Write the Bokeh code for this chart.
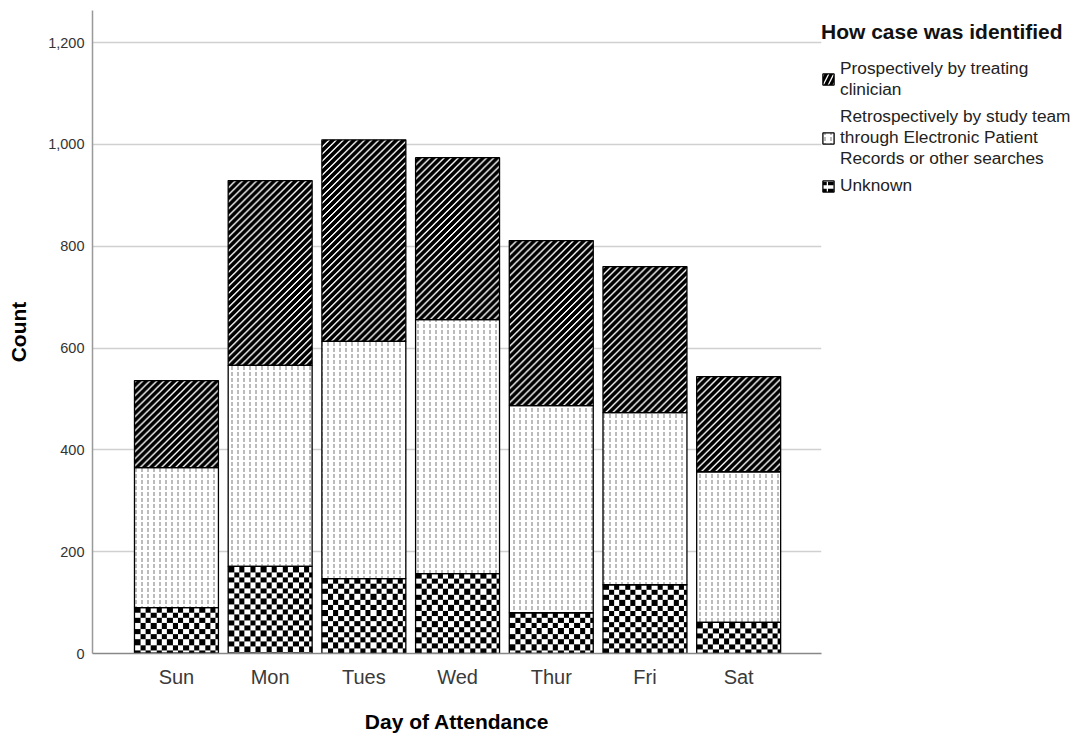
import numpy as np
from bokeh.plotting import figure
from bokeh.models import Range1d, FixedTicker, Legend, LegendItem, NumeralTickFormatter
from bokeh.embed import file_html
from bokeh.resources import INLINE

days = ["Sun", "Mon", "Tues", "Wed", "Thur", "Fri", "Sat"]
unknown = [90, 171, 147, 157, 80, 135, 61]
retrospective = [275, 395, 466, 499, 407, 338, 296]
prospective = [171, 363, 396, 318, 324, 287, 187]
y_ticks = [0, 200, 400, 600, 800, 1000, 1200]

labels = ["Prospectively by treating\nclinician",
          "Retrospectively by study team\nthrough Electronic Patient\nRecords or other searches",
          "Unknown"]

# ---- layout constants
FRAME_W, FRAME_H = 729, 643
X0, X1 = -0.896, 6.884
Y0, Y1 = 0, 1263
W = 0.896
px_x = FRAME_W / (X1 - X0)
px_y = FRAME_H / (Y1 - Y0)

x = np.arange(len(days))
u = np.array(unknown, dtype=float)
r = np.array(retrospective, dtype=float)
pr = np.array(prospective, dtype=float)
b_unk, t_unk = np.zeros_like(u), u
b_ret, t_ret = u, u + r
b_pro, t_pro = u + r, u + r + pr


def rgba_to_u32(arr):
    return np.ascontiguousarray(arr).view(np.uint32).reshape(arr.shape[0], arr.shape[1])


def checker_img(nx, ny, cell=5.33):
    jj, ii = np.mgrid[0:ny, 0:nx]
    ty = ny - 1 - jj
    on = ((np.floor(ii / cell) + np.floor(ty / cell)) % 2) == 0
    v = np.where(on, 0, 255).astype(np.uint8)
    arr = np.stack([v, v, v, np.full_like(v, 255)], axis=-1)
    return rgba_to_u32(arr)


def stripe_img(nx, ny, period=7):
    jj, ii = np.mgrid[0:ny, 0:nx]
    ty = ny - 1 - jj
    d = (ii + ty) % period
    shade = np.zeros(period, dtype=np.uint8)
    shade[0], shade[1] = 255, 235
    v = shade[d]
    arr = np.stack([v, v, v, np.full_like(v, 255)], axis=-1)
    return rgba_to_u32(arr)


def layer_images(bottoms, tops, maker):
    imgs = []
    for b, t in zip(bottoms, tops):
        nx = int(round(W * px_x))
        ny = max(1, int(round((t - b) * px_y)))
        imgs.append(maker(nx, ny))
    return imgs


p = figure(frame_width=FRAME_W, frame_height=FRAME_H,
           min_border_left=92, min_border_top=10, min_border_bottom=78, min_border_right=10,
           x_range=Range1d(X0, X1), y_range=Range1d(Y0, Y1),
           output_backend="svg", toolbar_location=None)
p.outline_line_color = None
p.background_fill_color = "white"

# patterned fills (drawn through the data scales)
p.image_rgba(image=layer_images(b_unk, t_unk, checker_img), x=list(x - W / 2), y=list(b_unk),
             dw=[W] * len(x), dh=list(t_unk - b_unk))
p.image_rgba(image=layer_images(b_pro, t_pro, stripe_img), x=list(x - W / 2), y=list(b_pro),
             dw=[W] * len(x), dh=list(t_pro - b_pro))

r_ret = p.vbar(x=x, bottom=b_ret, top=t_ret, width=W, fill_color="white", line_color="black",
               line_width=1.3, hatch_pattern="vertical_dash", hatch_color="#777777",
               hatch_scale=6, hatch_weight=1)
p.vbar(x=x, bottom=b_unk, top=t_unk, width=W, fill_color=None, line_color="black", line_width=1.3)
p.vbar(x=x, bottom=b_pro, top=t_pro, width=W, fill_color=None, line_color="black", line_width=1.3)

# legend proxies: zero-height bars lying on the first bar's base line
leg_pro = p.vbar(x=x[:1], bottom=b_unk[:1], top=b_unk[:1], width=W, fill_color="black",
                 line_color="black", line_width=1.3, hatch_pattern="right_diagonal_line",
                 hatch_color="white", hatch_scale=10, hatch_weight=1.3)
leg_unk = p.vbar(x=x[:1], bottom=b_unk[:1], top=b_unk[:1], width=W, fill_color="white",
                 line_color="black", line_width=1.3, hatch_pattern="horizontal_dash",
                 hatch_color="black", hatch_scale=7, hatch_weight=3.5)

# axes
p.yaxis.ticker = FixedTicker(ticks=y_ticks)
p.yaxis.formatter = NumeralTickFormatter(format="0,0")
p.yaxis.major_tick_line_color = None
p.yaxis.minor_tick_line_color = None
p.yaxis.axis_line_color = "#999999"
p.yaxis.axis_line_width = 1.5
p.yaxis.major_label_text_font = "Liberation Sans"
p.yaxis.major_label_text_font_size = "14.5px"
p.yaxis.major_label_text_color = "#333333"
p.yaxis.major_label_standoff = 2
p.yaxis.axis_label = "Count"
p.yaxis.axis_label_text_font = "Liberation Sans"
p.yaxis.axis_label_text_font_size = "21px"
p.yaxis.axis_label_text_font_style = "bold"
p.yaxis.axis_label_text_color = "black"
p.yaxis.axis_label_standoff = 15

p.xaxis.ticker = FixedTicker(ticks=list(x))
p.xaxis.major_label_overrides = {i: d for i, d in enumerate(days)}
p.xaxis.major_tick_line_color = None
p.xaxis.minor_tick_line_color = None
p.xaxis.axis_line_color = "#888888"
p.xaxis.axis_line_width = 1.5
p.xaxis.major_label_text_font = "Liberation Sans"
p.xaxis.major_label_text_font_size = "20px"
p.xaxis.major_label_text_color = "#3a3a3a"
p.xaxis.major_label_standoff = 6
p.xaxis.axis_label = "Day of Attendance"
p.xaxis.axis_label_text_font = "Liberation Sans"
p.xaxis.axis_label_text_font_size = "21px"
p.xaxis.axis_label_text_font_style = "bold"
p.xaxis.axis_label_text_color = "black"
p.xaxis.axis_label_standoff = 19

p.xgrid.grid_line_color = None
p.ygrid.grid_line_color = "#d0d0d0"
p.ygrid.grid_line_width = 1.5
p.ygrid.ticker = FixedTicker(ticks=y_ticks)

legend = Legend(items=[LegendItem(label=labels[0], renderers=[leg_pro]),
                       LegendItem(label=labels[1], renderers=[r_ret]),
                       LegendItem(label=labels[2], renderers=[leg_unk])],
                location=(0, 457), title="How case was identified")
legend.title_text_font = "Liberation Sans"
legend.title_text_font_size = "21px"
legend.title_text_font_style = "bold"
legend.title_text_color = "#111111"
legend.title_standoff = 14
legend.label_text_font = "Liberation Sans"
legend.label_text_font_size = "17.3px"
legend.label_text_color = "#222222"
legend.label_text_line_height = 1.07
legend.glyph_width = 14
legend.glyph_height = 14
legend.label_standoff = 5
legend.spacing = 6
legend.padding = 0
legend.margin = 0
legend.border_line_color = None
legend.background_fill_alpha = 0
p.add_layout(legend, "right")

open("out.html", "w").write(file_html(p, INLINE))
